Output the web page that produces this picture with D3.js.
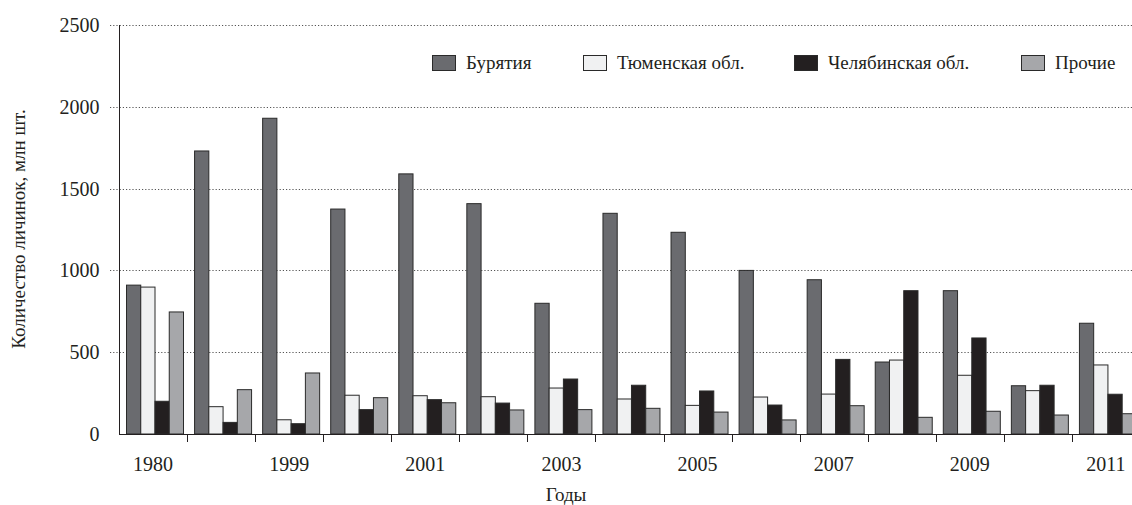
<!DOCTYPE html>
<html lang="ru">
  <head>
    <meta charset="UTF-8" />
    <script src="https://d3js.org/d3.v7.min.js"></script>
    <title>Количество личинок</title>
    <style>
      body {
        margin: 0;
        background: #fff;
      }
      text {
        font-family: 'Liberation Serif', 'DejaVu Serif', serif;
        fill: #231f20;
      }
      .grid line {
        stroke: #555;
        stroke-dasharray: 1.2, 2;
      }
    </style>
  </head>
  <body>
    <script>
      var width = 1132
      var height = 505

      // данные
      var years = ['1980', '1998', '1999', '2000', '2001', '2002', '2003', '2004',
        '2005', '2006', '2007', '2008', '2009', '2010', '2011']
      var seriesNames = ['Бурятия', 'Тюменская обл.', 'Челябинская обл.', 'Прочие']
      var buryatia = [910, 1730, 1930, 1375, 1590, 1408, 799, 1349, 1233, 1000, 943, 440, 876, 295, 677]
      var tyumen = [898, 167, 87, 237, 234, 228, 281, 214, 175, 226, 244, 452, 359, 265, 422]
      var chelyabinsk = [200, 71, 63, 149, 210, 189, 336, 298, 263, 177, 456, 876, 587, 298, 243]
      var other = [746, 271, 373, 222, 191, 147, 149, 157, 134, 86, 173, 102, 139, 116, 124]
      var yTicks = [0, 500, 1000, 1500, 2000, 2500]
      var shownYears = ['1980', '1999', '2001', '2003', '2005', '2007', '2009', '2011']

      var colors = ['#6a6b6f', '#f0f1f2', '#231f20', '#a6a7aa']
      var values = [buryatia, tyumen, chelyabinsk, other]

      var svg = d3
        .select('body')
        .append('svg')
        .attr('width', width)
        .attr('height', height)

      var x0 = d3.scaleBand().domain(years).range([119, 1140])
      var x1 = d3
        .scaleBand()
        .domain(d3.range(seriesNames.length))
        .range([7.5, 64.5])
      var y = d3.scaleLinear().domain([0, 2500]).range([434, 25])

      // сетка
      svg
        .append('g')
        .attr('class', 'grid')
        .selectAll('line')
        .data(yTicks.slice(1))
        .enter()
        .append('line')
        .attr('x1', 110)
        .attr('x2', width)
        .attr('y1', function (d) { return Math.round(y(d)) + 0.5 })
        .attr('y2', function (d) { return Math.round(y(d)) + 0.5 })

      // столбцы
      var groups = svg
        .selectAll('g.year')
        .data(years)
        .enter()
        .append('g')
        .attr('class', 'year')
        .attr('transform', function (d) { return 'translate(' + x0(d) + ',0)' })

      groups
        .selectAll('rect')
        .data(function (d, i) {
          return values.map(function (s, k) { return { k: k, v: s[i] } })
        })
        .enter()
        .append('rect')
        .attr('x', function (d) { return x1(d.k) })
        .attr('y', function (d) { return y(d.v) })
        .attr('width', x1.bandwidth())
        .attr('height', function (d) { return y(0) - y(d.v) })
        .attr('fill', function (d) { return colors[d.k] })
        .attr('stroke', '#2a2a2a')
        .attr('stroke-width', 1)

      // оси
      var xAxis = d3
        .axisBottom(x0)
        .tickSize(0)
        .tickPadding(23)
        .tickFormat(function (d) { return shownYears.indexOf(d) >= 0 ? d : '' })

      var gx = svg.append('g').attr('transform', 'translate(0,434)').call(xAxis)
      gx.select('.domain').attr('d', 'M119,0.5H' + width).attr('stroke', '#231f20')
      gx.selectAll('text').attr('font-size', 20).attr('font-family', 'Liberation Serif')

      // метки между группами
      gx.selectAll('line.sep')
        .data(years.slice(1))
        .enter()
        .append('line')
        .attr('class', 'sep')
        .attr('x1', function (d) { return Math.round(x0(d)) + 0.5 })
        .attr('x2', function (d) { return Math.round(x0(d)) + 0.5 })
        .attr('y1', 0)
        .attr('y2', 8)
        .attr('stroke', '#231f20')

      var yAxis = d3
        .axisLeft(y)
        .tickValues(yTicks)
        .tickSize(0)
        .tickPadding(20)
        .tickFormat(d3.format('d'))
      var gy = svg.append('g').attr('transform', 'translate(119.5,0)').call(yAxis)
      gy.select('.domain').attr('d', 'M0,25V434').attr('stroke', '#231f20')
      gy.selectAll('text').attr('font-size', 20).attr('font-family', 'Liberation Serif')

      // подписи осей
      svg
        .append('text')
        .attr('x', 566)
        .attr('y', 501)
        .attr('text-anchor', 'middle')
        .attr('font-size', 19)
        .text('Годы')

      svg
        .append('text')
        .attr('transform', 'translate(25,229) rotate(-90)')
        .attr('text-anchor', 'middle')
        .attr('font-size', 19)
        .text('Количество личинок, млн шт.')

      // легенда
      var legendX = [432, 583, 794, 1021]
      var legend = svg
        .selectAll('g.legend')
        .data(seriesNames)
        .enter()
        .append('g')
        .attr('class', 'legend')
        .attr('transform', function (d, i) { return 'translate(' + legendX[i] + ',55)' })

      legend
        .append('rect')
        .attr('x', 0.5)
        .attr('y', 0.5)
        .attr('width', 23)
        .attr('height', 15)
        .attr('fill', function (d, i) { return colors[i] })
        .attr('stroke', '#2a2a2a')

      legend
        .append('text')
        .attr('x', 34)
        .attr('y', 14)
        .attr('font-size', 19)
        .text(function (d) { return d })
    </script>
  </body>
</html>
